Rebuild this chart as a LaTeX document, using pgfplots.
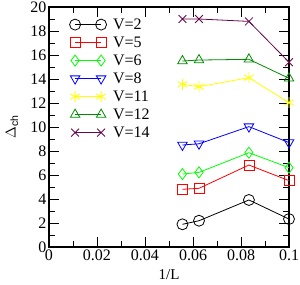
\documentclass[border=0pt]{standalone}
\usepackage{fontspec}
\setmainfont{Liberation Serif}
\newfontfamily\hsans{Liberation Sans}
\usepackage{pgfplots}
\pgfplotsset{compat=1.18}
\definecolor{ggreen}{RGB}{0,255,0}
\definecolor{gyellow}{RGB}{255,255,0}
\definecolor{ggreenfour}{RGB}{0,139,0}
\definecolor{gmaroon}{RGB}{103,7,72}
\begin{document}
\begin{tikzpicture}
\path[use as bounding box] (-49pt,-37pt) rectangle (251pt,247pt);
\begin{axis}[
  anchor=south west, at={(0pt,0pt)},
  scale only axis, width=240pt, height=240pt,
  xmin=0, xmax=0.1, ymin=0, ymax=20,
  xtick={0,0.02,0.04,0.06,0.08,0.1},
  xticklabels={0,0.02,0.04,0.06,0.08,0.1},
  ytick={0,2,...,20},
  minor x tick num=1, minor y tick num=1,
  tick align=inside,
  major tick length=10pt, minor tick length=6pt,
  tick style={black, line width=0.9pt},
  axis line style={line width=1.1pt},
  /pgf/number format/assume math mode=true,
  ticklabel style={font=\fontsize{16}{18}\selectfont},
  yticklabel style={xshift=1pt},
  xticklabel style={yshift=1pt},
  xlabel={1/L}, ylabel={\hsans$\Delta$\textsubscript{ch}},
  every axis x label/.style={at={(axis description cs:0.5,0)}, yshift=-32.5pt, anchor=base, font=\fontsize{15}{18}\selectfont},
  every axis y label/.style={at={(axis description cs:0,0.5)}, xshift=-37pt, rotate=90, anchor=center, font=\fontsize{15}{18}\selectfont},
  legend style={draw=none, fill=none, at={(axis description cs:0.085,0.965)}, anchor=north west,
    font=\fontsize{16}{18}\selectfont, row sep=0pt, inner sep=0pt,
    nodes={text height=12pt, text depth=3pt, inner sep=1.5pt}},
  legend cell align=left,
  legend image code/.code={\draw[#1] plot coordinates {(0pt,0pt) (26pt,0pt)}; \path (36pt,0pt);},
  every axis plot/.append style={line width=0.8pt, mark size=5.5pt, mark options={solid, fill=none, line width=0.8pt}},
]
\addplot[black, mark=o] coordinates {(0.0556,1.89) (0.0625,2.19) (0.0833,3.92) (0.1,2.33)};
\addlegendentry{V=2}
\addplot[red, mark=square, mark size=5pt] coordinates {(0.0556,4.81) (0.0625,4.89) (0.0833,6.83) (0.1,5.53)};
\addlegendentry{V=5}
\addplot[ggreen, mark=diamond] coordinates {(0.0556,6.08) (0.0625,6.22) (0.0833,7.86) (0.1,6.61)};
\addlegendentry{V=6}
\addplot[blue, mark=triangle, mark options={rotate=180}] coordinates {(0.0556,8.5) (0.0625,8.6) (0.0833,10.03) (0.1,8.7)};
\addlegendentry{V=8}
\addplot[gyellow, mark=asterisk] coordinates {(0.0556,13.56) (0.0625,13.36) (0.0833,14.11) (0.1,12.03)};
\addlegendentry{V=11}
\addplot[ggreenfour, mark=triangle] coordinates {(0.0556,15.5) (0.0625,15.58) (0.0833,15.64) (0.1,14.06)};
\addlegendentry{V=12}
\addplot[gmaroon, mark=x] coordinates {(0.0556,19.0) (0.0625,19.0) (0.0833,18.8) (0.1,15.4)};
\addlegendentry{V=14}
\end{axis}
\end{tikzpicture}
\end{document}
